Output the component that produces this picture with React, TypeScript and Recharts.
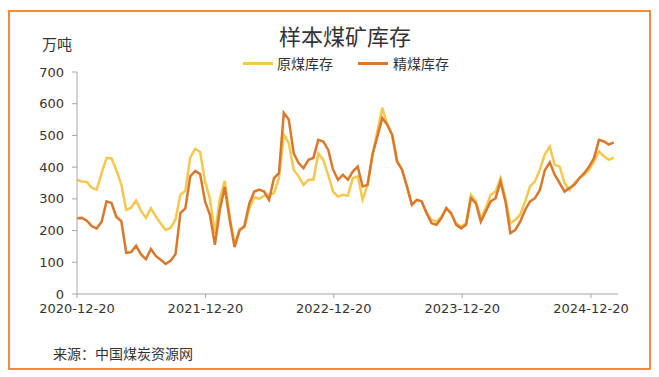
import React from 'react';
import { LineChart, Line, XAxis, YAxis } from 'recharts';

// weekly survey, sampled every two weeks from the start date
const startDate = '2020-12-20';
const stepDays = 14;

// 原煤库存 (万吨)
const rawCoal = [
  360, 355, 353, 335, 329, 381, 429, 428, 390, 345,
  265, 272, 295, 262, 240, 270, 245, 222, 202, 208,
  235, 313, 325, 430, 458, 448, 355, 300, 190, 300,
  357, 245, 155, 205, 210, 270, 305, 300, 310, 313,
  318, 365, 502, 476, 392, 371, 344, 360, 360, 444,
  423, 376, 323, 307, 313, 310, 365, 371, 297, 344,
  439, 513, 587, 534, 502, 418, 392, 339, 281, 297,
  292, 255, 234, 228, 244, 271, 250, 223, 213, 223,
  313, 292, 239, 271, 313, 323, 365, 302, 223, 234,
  250, 292, 339, 355, 392, 440, 465, 407, 402, 350,
  328, 350, 365, 376, 392, 418, 450, 434, 423, 430,
];

// 精煤库存 (万吨)
const cleanCoal = [
  239, 240, 231, 214, 207, 228, 292, 287, 243, 230,
  130, 132, 152, 125, 110, 142, 120, 108, 95, 105,
  125, 255, 270, 371, 388, 378, 292, 250, 155, 265,
  337, 235, 148, 200, 215, 286, 323, 329, 323, 297,
  365, 381, 571, 550, 444, 413, 397, 423, 429, 486,
  481, 455, 392, 360, 376, 360, 386, 402, 339, 344,
  439, 497, 555, 534, 502, 418, 392, 339, 281, 297,
  292, 255, 223, 218, 239, 271, 255, 218, 207, 218,
  302, 286, 228, 260, 292, 302, 355, 292, 192, 202,
  228, 265, 292, 302, 328, 390, 415, 376, 350, 323,
  334, 344, 365, 381, 402, 429, 486, 481, 471, 478,
];

const xTickLabels = ['2020-12-20', '2021-12-20', '2022-12-20', '2023-12-20', '2024-12-20'];
const axisEnd = '2025-03-07';
const yTicks = [0, 100, 200, 300, 400, 500, 600, 700];

const DAY = 24 * 3600 * 1000;
const t0 = Date.parse(startDate);
const data = rawCoal.map((v, i) => ({
  t: t0 + i * stepDays * DAY,
  raw: v,
  clean: cleanCoal[i],
}));

const fmtDate = (ms: number) => new Date(ms).toISOString().slice(0, 10);

const YELLOW = '#F4C74F';
const ORANGE = '#D9782C';
const numFont = '"DejaVu Sans", sans-serif';
const cjkFont = '"Noto Sans CJK SC", sans-serif';

export default function App() {
  return (
    <div style={{ position: 'relative', width: 643, height: 362, fontFamily: cjkFont, color: '#333' }}>
      <div
        style={{
          position: 'absolute', left: 0, top: 2, width: 643, height: 360,
          border: '2px solid #F28C38', boxSizing: 'border-box',
        }}
      />
      <div style={{ position: 'absolute', left: 0, top: 0 }}>
        <LineChart width={643} height={362} data={data} margin={{ top: 64, right: 33, bottom: 46, left: 0 }}>
          <XAxis
            dataKey="t"
            type="number"
            domain={[t0, Date.parse(axisEnd)]}
            ticks={xTickLabels.map((d) => Date.parse(d))}
            tickFormatter={fmtDate}
            height={30}
            tickSize={4}
            tickMargin={6}
            stroke="#a6a6a6"
            tick={{ fill: '#333', fontSize: 13, fontFamily: numFont }}
          />
          <YAxis
            domain={[0, 700]}
            ticks={yTicks}
            width={69}
            tickSize={5}
            tickMargin={8}
            stroke="#a6a6a6"
            tick={{ fill: '#333', fontSize: 13, fontFamily: numFont }}
          />
          <Line type="linear" dataKey="raw" stroke={YELLOW} strokeWidth={2.5} dot={false} isAnimationActive={false} />
          <Line type="linear" dataKey="clean" stroke={ORANGE} strokeWidth={2.5} dot={false} isAnimationActive={false} />
        </LineChart>
      </div>

      <div style={{ position: 'absolute', left: 237, width: 200, top: 14, textAlign: 'center', fontSize: 22, lineHeight: '26px' }}>
        样本煤矿库存
      </div>
      <div style={{ position: 'absolute', left: 34, top: 27, fontSize: 15, lineHeight: '18px' }}>万吨</div>

      {/* legend */}
      <div style={{ position: 'absolute', left: 235, top: 54, width: 30, height: 3, background: YELLOW }} />
      <div style={{ position: 'absolute', left: 269, top: 46, fontSize: 14, lineHeight: '18px' }}>原煤库存</div>
      <div style={{ position: 'absolute', left: 350, top: 54, width: 30, height: 3, background: ORANGE }} />
      <div style={{ position: 'absolute', left: 385, top: 46, fontSize: 14, lineHeight: '18px' }}>精煤库存</div>

      <div style={{ position: 'absolute', left: 45, top: 336, fontSize: 14, lineHeight: '18px' }}>来源：中国煤炭资源网</div>
    </div>
  );
}
